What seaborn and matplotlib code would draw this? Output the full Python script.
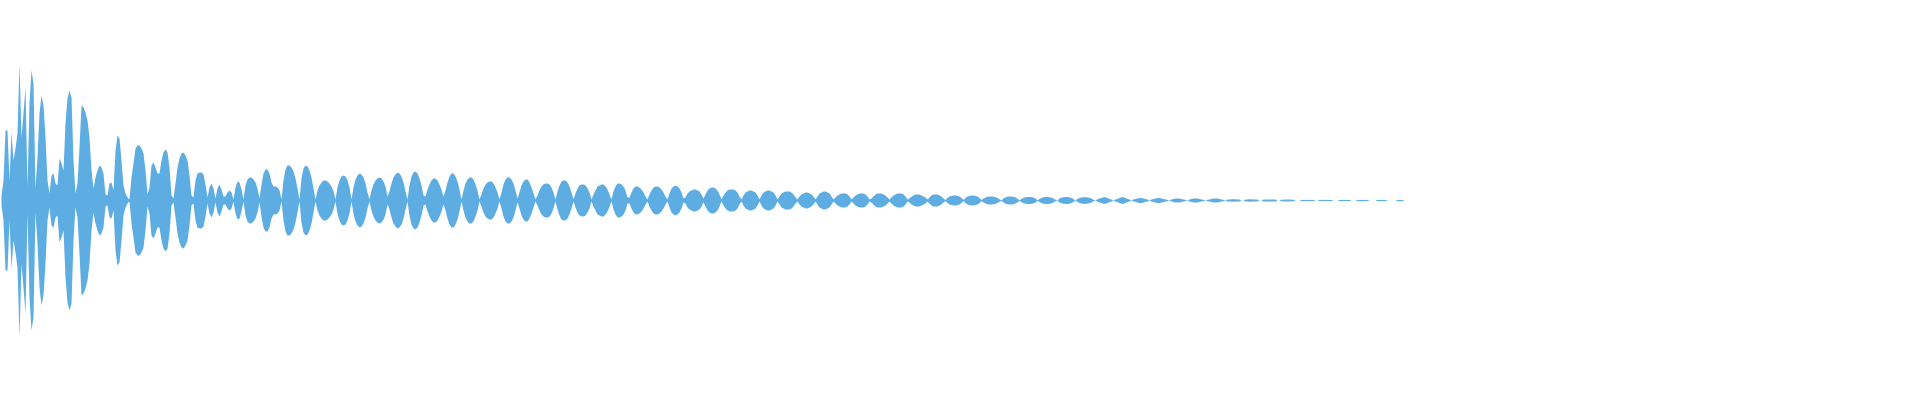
import numpy as np
import matplotlib
matplotlib.use("Agg")
import matplotlib.pyplot as plt
import seaborn as sns

# Peak level per 2-sample bin (arbitrary audio units, symmetric waveform)
level_attack = [
    5, 20, 70, 70, 20, 68, 40, 52, 67, 137,
    63, 87, 113, 13, 97, 130, 117, 12, 43, 87,
    105, 95, 63, 20, 7, 25, 27, 17, 15, 42,
    37, 30, 77, 102, 110, 103, 40, 7, 17, 53,
    95, 93, 88, 80, 63, 30, 12, 23, 30, 35,
    33, 27, 6, 5, 17, 18, 10, 50, 65, 62,
    40, 15, 7, 3, 1, 23, 37, 52, 55, 55,
    52, 47, 30, 6, 13, 35, 38, 33, 27, 27,
    40, 48, 51, 48, 33, 5, 2, 17, 33, 42,
    47, 48, 45, 40, 25, 5, 3, 20, 27, 28,
]

level_body = [
    28, 26, 16, 3, 13, 17, 12, 2, 12, 16, 11, 4, 4, 8, 10, 8, 1, 13, 19, 18, 11, 1,
    15, 21, 23, 23, 21, 18, 12, 2,
    16, 27, 31, 31, 27, 18, 14, 14, 13, 10, 1,
    20, 31, 35, 35, 33, 29, 22, 12, 1,
    22, 32, 35, 34, 30, 23, 12, 1,
    10, 15, 18, 20, 20, 19, 17, 14, 9, 1,
    13, 20, 24, 25, 24, 20, 13, 1,
    13, 21, 25, 27, 26, 23, 17, 8, 1,
    10, 16, 20, 22, 23, 22, 19, 14, 4,
    9, 17, 23, 26, 28, 27, 24, 18, 9, 1,
    15, 24, 28, 29, 27, 22, 15, 5,
    4, 11, 16, 20, 22, 22, 20, 16, 11, 4,
    10, 18, 24, 27, 27, 24, 19, 11, 1,
    10, 17, 21, 23, 23, 21, 16, 10, 1,
    6, 12, 16, 18, 19, 19, 17, 13, 8, 1,
]

level_middle = [
    8, 16, 21, 23, 23, 21, 17, 10, 2,
    8, 15, 19, 21, 21, 18, 13, 7, 1,
    5, 10, 14, 16, 17, 17, 16, 13, 8, 1,
    9, 15, 19, 20, 20, 18, 14, 8, 1,
    7, 12, 15, 16, 16, 15, 12, 8, 1,
    6, 10, 14, 15, 16, 16, 14, 11, 6, 1,
    9, 14, 17, 17, 16, 14, 10, 3,
    3, 8, 12, 14, 14, 13, 11, 8, 4, 1,
    6, 10, 13, 14, 14, 13, 11, 8, 4, 1,
    7, 12, 14, 15, 14, 12, 8, 2,
    3, 7, 9, 10, 11, 11, 10, 9,
]

level_decay = [
    6, 2,
    6, 10, 12, 13, 13, 12, 10, 6, 1,
    5, 8, 10, 11, 11, 11, 10, 8, 4, 1,
    5, 8, 9, 10, 10, 9, 8, 5, 1,
    5, 8, 9, 10, 10, 9, 8, 5, 1,
    4, 7, 8, 9, 9, 9, 8, 6, 3, 1,
    4, 6, 7, 8, 8, 7, 6, 4, 1,
    4, 7, 8, 9, 9, 8, 7, 4, 1,
    3, 5, 6, 7, 7, 7, 6, 4, 1,
    3, 5, 6, 7, 7, 7, 6, 4, 1,
    2, 4, 6, 7, 7, 7, 6, 5, 3, 1,
    3, 5, 6, 7, 7, 7, 6, 4, 1,
    2, 4, 5, 6, 6, 6, 5, 4, 3, 1,
    3, 5, 6, 6, 6, 5, 4, 2,
    0.5, 2.5, 4, 4.5, 5, 5, 4.5, 4, 2.5, 0.5,
    2.5, 4, 4.5, 5, 5, 4.5, 4, 2.5, 0.5,
    2, 3, 3.7, 4, 4, 3.8, 3.3, 2.5, 1.2,
    0.3, 2, 3.2, 3.8, 4, 4, 3.7, 3, 1.8,
    0.3, 1.5, 2.7, 3.2, 3.5, 3.5, 3.4, 2.9, 2,
    0.3, 1.5, 2.6, 3.2, 3.5, 3.5, 3.3, 2.8, 2, 0.8,
    0, 2, 2.8, 3.2, 3.5, 3.5, 3.2, 2.6, 1.5,
    0, 1.5, 2.5, 3.1, 3.3, 3.3, 3.1, 2.7, 2, 0.8,
    0, 1.2, 2,
]

level_tail = [
    2.5, 3.3, 3.3, 2.5, 1.5, 1, 0,
    1, 1.5, 2.5, 3.3, 3.3, 2.5, 1.5, 1, 0,
    1, 1.5, 2, 2.5, 2.5, 2, 1.5, 1, 0,
    1, 1.5, 2, 2.5, 2.5, 2, 1.5, 1, 0.7, 0,
    1, 1.5, 2, 2, 2, 1.5, 1, 0.7, 0,
    1, 1.5, 2, 2, 2, 1.5, 1, 0.7, 0,
    0.7, 1, 1.5, 2, 2, 2, 1.5, 1, 0.7, 0,
    1, 1, 1.2, 1.2, 1.2, 1, 1, 0, 0,
    1, 1, 1.2, 1.2, 1, 1, 1, 0, 0,
    1, 1, 1, 1, 1, 1, 1, 0, 0,
    0.8, 0.8, 1, 1, 1, 0.8, 0.8, 0, 0,
    0, 0.6, 0.6, 0.6, 0.6, 0.6, 0.6, 0.6, 0, 0,
    0.6, 0.6, 0.6, 0.6, 0.6, 0.6, 0.6, 0, 0, 0,
    0.6, 0.6, 0.6, 0.6, 0.6, 0.6, 0, 0, 0,
    0.6, 0.6, 0.6, 0.6, 0.6, 0.6, 0, 0, 0, 0,
    0.6, 0.6, 0.6, 0.6, 0.6, 0, 0, 0, 0, 0,
    0.6, 0.6, 0.6, 0.6,
]

wave_color = "#5DADE2"
total_bins = 960

level = np.array(level_attack + level_body + level_middle + level_decay + level_tail, dtype=float)
full_scale = level.max()
amp = level / full_scale
bins = np.arange(len(amp))

sns.set_theme(style="white")
fig = plt.figure(figsize=(19.2, 4.0), dpi=100)
ax = fig.add_axes([0, 0, 1, 1])
ax.fill_between(bins, -amp, amp, color=wave_color, linewidth=0)
ax.set_xlim(-0.5, total_bins - 0.5)
ax.set_ylim(-200 / 137, 200 / 137)
ax.axis("off")
sns.despine(ax=ax, left=True, bottom=True)
fig.savefig("out.png", dpi=100, facecolor="white")
